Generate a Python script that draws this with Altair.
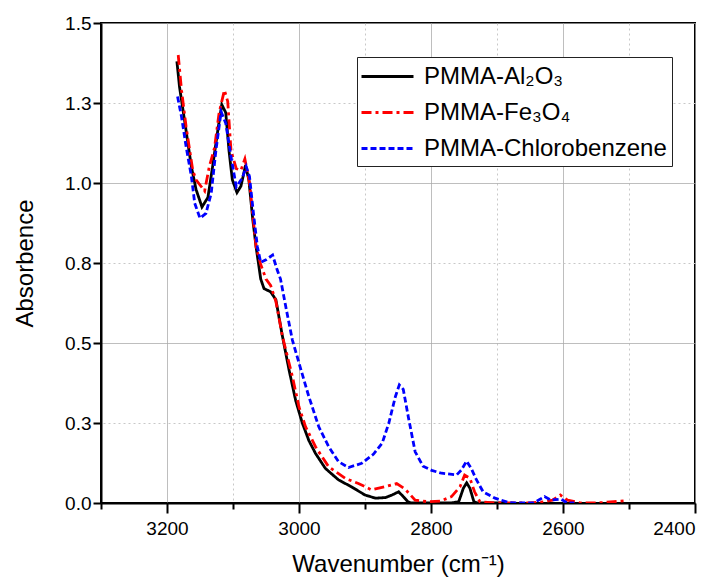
import altair as alt
import pandas as pd

series_names = ["PMMA-Al₂O₃", "PMMA-Fe₃O₄", "PMMA-Chlorobenzene"]
series_colors = ["#000000", "#ff0000", "#0000ff"]
series_dashes = [[1, 0], [10, 4, 3, 4], [6, 3]]

al_wn = [3185, 3181, 3173, 3163, 3156, 3147, 3138, 3131, 3123, 3117, 3111, 3106, 3101,
         3094, 3088, 3081, 3076, 3070, 3065, 3058, 3053, 3043, 3035, 3025, 3015, 3005,
         2995, 2985, 2975, 2960, 2940, 2920, 2900, 2884, 2869, 2859, 2849, 2842, 2835,
         2830, 2800, 2770, 2758, 2751, 2746, 2741, 2735, 2730, 2690]
al_abs = [1.38, 1.30, 1.19, 1.05, 0.98, 0.925, 0.955, 1.05, 1.165, 1.245, 1.22, 1.10, 1.01,
          0.97, 0.99, 1.055, 1.01, 0.885, 0.80, 0.70, 0.67, 0.66, 0.635, 0.52, 0.415, 0.32,
          0.25, 0.195, 0.155, 0.108, 0.072, 0.05, 0.025, 0.015, 0.017, 0.025, 0.035, 0.02, 0.004,
          0.0, 0.0, 0.0, 0.004, 0.046, 0.063, 0.046, 0.004, 0.0, 0.0]

fe_wn = [3183, 3178, 3171, 3161, 3156, 3143, 3136, 3128, 3121, 3113, 3108, 3103, 3095,
         3088, 3082, 3075, 3065, 3058, 3050, 3043, 3035, 3025, 3010, 3000, 2990, 2975,
         2955, 2930, 2910, 2890, 2869, 2852, 2839, 2824, 2805, 2786, 2769, 2756, 2749,
         2741, 2734, 2726, 2700, 2650, 2628, 2616, 2604, 2593, 2573, 2550, 2523, 2505]
fe_abs = [1.40, 1.29, 1.175, 1.04, 1.01, 0.975, 1.05, 1.11, 1.22, 1.29, 1.255, 1.10, 1.045,
          1.04, 1.075, 1.0, 0.80, 0.745, 0.70, 0.68, 0.63, 0.52, 0.395, 0.30, 0.238, 0.176,
          0.113, 0.077, 0.061, 0.041, 0.051, 0.061, 0.043, 0.009, 0.004, 0.006, 0.02, 0.051, 0.087,
          0.077, 0.035, 0.004, 0.0, 0.0, 0.004, 0.009, 0.025, 0.009, 0.0, 0.0, 0.004, 0.007]

cb_wn = [3184, 3178, 3171, 3163, 3158, 3150, 3141, 3133, 3126, 3118, 3111, 3103, 3095,
         3086, 3080, 3075, 3069, 3063, 3058, 3050, 3040, 3033, 3028, 3020, 3010, 2997,
         2985, 2970, 2955, 2940, 2925, 2905, 2887, 2874, 2864, 2854, 2848, 2842, 2834,
         2824, 2812, 2799, 2784, 2761, 2754, 2746, 2739, 2731, 2721, 2703, 2683, 2673,
         2645, 2638, 2628, 2618, 2603, 2593, 2583]
cb_abs = [1.27, 1.207, 1.113, 1.02, 0.937, 0.89, 0.905, 0.968, 1.10, 1.223, 1.187, 1.082, 0.988,
          1.015, 1.051, 1.02, 0.905, 0.80, 0.752, 0.76, 0.775, 0.728, 0.70, 0.613, 0.509, 0.416,
          0.332, 0.238, 0.176, 0.129, 0.111, 0.124, 0.153, 0.187, 0.249, 0.332, 0.369, 0.355, 0.265,
          0.16, 0.115, 0.102, 0.093, 0.088, 0.103, 0.131, 0.108, 0.072, 0.035, 0.015, 0.002, 0.0,
          0.0, 0.008, 0.020, 0.009, 0.012, 0.0, 0.0]

x_ticks = list(range(2400, 3301, 100))
y_ticks = [0.0, 0.25, 0.5, 0.75, 1.0, 1.25, 1.5]

rows = []
for name, wns, abss in zip(series_names, [al_wn, fe_wn, cb_wn], [al_abs, fe_abs, cb_abs]):
    for w, a in zip(wns, abss):
        rows.append({"series": name, "wn": w, "abs": a})
df = pd.DataFrame(rows)

FONT = "Liberation Sans"

leg = alt.Legend(
    title=None, orient="none", legendX=256, legendY=34,
    fillColor="white", strokeColor="#222222", padding=5,
    symbolType="M-2,0L2,0", symbolSize=676, symbolStrokeWidth=2.8, symbolOffset=11,
    labelFontSize=24, labelFont=FONT, labelColor="black", labelOffset=22,
    labelLimit=0, rowPadding=9, cornerRadius=0,
)

chart = alt.Chart(df).mark_line(strokeWidth=2.8, clip=True).encode(
    x=alt.X("wn:Q",
            scale=alt.Scale(domain=[2400, 3300], reverse=True, nice=False, zero=False),
            axis=alt.Axis(
                values=x_ticks, format="d", title="Wavenumber (cm⁻¹)",
                labelExpr="datum.value % 200 === 0 ? datum.label : ''",
                tickSize=alt.condition("datum.value % 200 === 0", alt.value(10), alt.value(6)),
                gridDash=alt.condition("datum.value % 200 === 0", alt.value([1, 0]), alt.value([2, 3])),
                gridColor=alt.condition("datum.value % 200 === 0", alt.value("#a8a8a8"), alt.value("#c8c8c8")),
                labelPadding=6, titlePadding=14, labelOverlap=False,
            )),
    y=alt.Y("abs:Q",
            scale=alt.Scale(domain=[0, 1.5], nice=False),
            axis=alt.Axis(
                values=y_ticks, format=".1f", title="Absorbence",
                tickSize=8, labelPadding=2, titlePadding=27,
                gridDash=alt.condition("datum.value % 0.5 === 0", alt.value([1, 0]), alt.value([2, 3])),
                gridColor=alt.condition("datum.value % 0.5 === 0", alt.value("#a8a8a8"), alt.value("#c8c8c8")),
                labelOverlap=False,
            )),
    color=alt.Color("series:N", sort=series_names,
                    scale=alt.Scale(domain=series_names, range=series_colors), legend=leg),
    strokeDash=alt.StrokeDash("series:N", sort=series_names,
                              scale=alt.Scale(domain=series_names, range=series_dashes), legend=leg),
).properties(
    width=594, height=480,
    background="white",
    autosize=alt.AutoSizeParams(type="none"),
    padding={"left": 101, "top": 23, "right": 23, "bottom": 80},
).configure_axis(
    labelFont=FONT, titleFont=FONT, labelFontSize=19, titleFontSize=24,
    titleFontWeight="normal", labelColor="black", titleColor="black",
    domainColor="black", domainWidth=2, tickColor="black", tickWidth=2, gridWidth=1,
).configure_view(
    stroke="black", strokeWidth=2,
)

chart.save("out.html", embed_options={"renderer": "svg", "actions": False})
